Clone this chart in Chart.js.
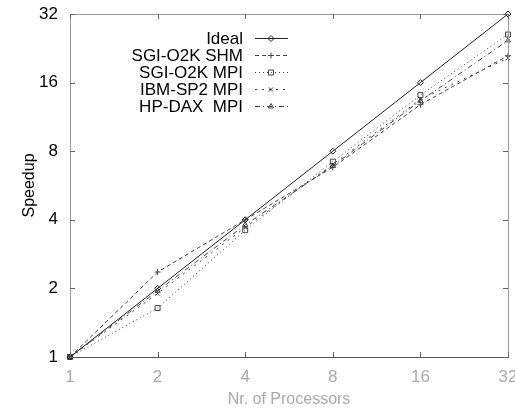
<!DOCTYPE html>
<html>
<head>
<meta charset="utf-8">
<script src="https://cdn.jsdelivr.net/npm/chart.js@4/dist/chart.umd.min.js"></script>
<style>
  html, body { margin: 0; padding: 0; background: #fff; }
  #wrap { width: 515px; height: 409px; }
</style>
</head>
<body>
<div id="wrap"><canvas id="chartCanvas" width="515" height="409"></canvas></div>
<script>
const processors = [1, 2, 4, 8, 16, 32];
const ideal = [1, 2, 4, 8, 16, 32];
const sgiShm = [1, 2.36, 4.0, 6.8, 12.8, 21];
const sgiMpi = [1, 1.64, 3.6, 7.2, 14.1, 26];
const ibmMpi = [1, 1.9, 3.7, 7.0, 13.5, 20.5];
const hpMpi = [1, 1.95, 3.8, 6.9, 13.3, 24.5];
const speedTicks = [1, 2, 4, 8, 16, 32];

const FONT = "'Liberation Sans', Arial, sans-serif";

function pts(values) {
    return processors.map((p, i) => ({ x: p, y: values[i] }));
}

function series(label, values, dash, style, radius, color) {
    return {
        label: label,
        data: pts(values),
        borderColor: color,
        backgroundColor: 'rgba(0,0,0,0)',
        borderWidth: 1,
        borderDash: dash,
        pointStyle: style,
        pointRadius: radius,
        pointBorderColor: color,
        pointBackgroundColor: 'rgba(0,0,0,0)',
        pointBorderWidth: 1,
        tension: 0,
        clip: false
    };
}

// legend drawn like gnuplot: right aligned text, sample on the right
const gnuLegend = {
    id: 'gnuLegend',
    afterDraw(chart) {
        const ctx = chart.ctx;
        ctx.save();
        ctx.font = '17px ' + FONT;
        ctx.textAlign = 'right';
        ctx.textBaseline = 'middle';
        chart.data.datasets.forEach((ds, i) => {
            const y = 38 + i * 17;
            ctx.fillStyle = '#000';
            ctx.fillText(ds.label, 243, y + 1);
            ctx.strokeStyle = ds.borderColor;
            ctx.lineWidth = 1;
            ctx.setLineDash(ds.borderDash);
            ctx.beginPath();
            ctx.moveTo(255, y + 0.5);
            ctx.lineTo(288, y + 0.5);
            ctx.stroke();
            ctx.setLineDash([]);
            ctx.fillStyle = 'rgba(0,0,0,0)';
            Chart.helpers.drawPoint(ctx, {
                pointStyle: ds.pointStyle,
                radius: ds.pointRadius,
                rotation: 0,
                borderWidth: 1
            }, 271, y + 0.5);
        });
        ctx.restore();
    }
};

// frame and inward ticks on all four sides
const gnuFrame = {
    id: 'gnuFrame',
    afterDraw(chart) {
        const ctx = chart.ctx;
        const a = chart.chartArea;
        const xs = chart.scales.x, ys = chart.scales.y;
        ctx.save();
        ctx.lineWidth = 1;
        ctx.strokeStyle = '#999';
        ctx.beginPath();
        ctx.moveTo(a.left + 0.5, a.bottom);
        ctx.lineTo(a.left + 0.5, a.top + 0.5);
        ctx.lineTo(a.right + 0.5, a.top + 0.5);
        ctx.lineTo(a.right + 0.5, a.bottom);
        ctx.stroke();
        ctx.strokeStyle = '#555';
        ctx.beginPath();
        ctx.moveTo(a.left, a.bottom + 0.5);
        ctx.lineTo(a.right + 1, a.bottom + 0.5);
        ctx.stroke();
        ctx.strokeStyle = '#666';
        ctx.beginPath();
        processors.forEach(p => {
            const px = Math.round(xs.getPixelForValue(p)) + 0.5;
            ctx.moveTo(px, a.bottom);
            ctx.lineTo(px, a.bottom - 5);
            ctx.moveTo(px, a.top);
            ctx.lineTo(px, a.top + 5);
        });
        speedTicks.forEach(v => {
            const py = Math.round(ys.getPixelForValue(v)) + 0.5;
            ctx.moveTo(a.left, py);
            ctx.lineTo(a.left + 5, py);
            ctx.moveTo(a.right, py);
            ctx.lineTo(a.right - 5, py);
        });
        ctx.stroke();
        ctx.restore();
    }
};

const ctx = document.getElementById('chartCanvas').getContext('2d');
new Chart(ctx, {
    type: 'line',
    data: {
        datasets: [
            series('Ideal', ideal, [], 'rectRot', 3, '#222'),
            series('SGI-O2K SHM', sgiShm, [4, 3], 'cross', 3, '#444'),
            series('SGI-O2K MPI', sgiMpi, [1, 3], 'rect', 3.5, '#444'),
            series('IBM-SP2 MPI', ibmMpi, [2, 5], 'crossRot', 3, '#444'),
            series('HP-DAX  MPI', hpMpi, [5, 3, 1, 3], 'triangle', 3, '#444')
        ]
    },
    options: {
        responsive: false,
        animation: false,
        layout: { padding: { left: 0, right: 7, top: 14, bottom: 0 } },
        plugins: {
            legend: { display: false },
            tooltip: { enabled: false }
        },
        scales: {
            x: {
                type: 'logarithmic',
                min: 1,
                max: 32,
                afterBuildTicks: s => { s.ticks = processors.map(v => ({ value: v })); },
                afterFit: s => { s.height = 52; s.paddingLeft = 0; s.paddingRight = 0; },
                grid: { display: false, drawTicks: false },
                border: { display: false },
                ticks: {
                    autoSkip: false,
                    maxRotation: 0,
                    padding: 10,
                    color: '#aaa',
                    font: { family: FONT, size: 17 },
                    callback: v => String(v)
                },
                title: {
                    display: true,
                    text: 'Nr. of Processors',
                    color: '#aaa',
                    font: { family: FONT, size: 16 },
                    padding: { top: 0, bottom: 0 }
                }
            },
            y: {
                type: 'logarithmic',
                min: 1,
                max: 32,
                afterBuildTicks: s => { s.ticks = speedTicks.map(v => ({ value: v })); },
                afterFit: s => { s.width = 70; s.paddingTop = 0; s.paddingBottom = 0; },
                grid: { display: false, drawTicks: false },
                border: { display: false },
                ticks: {
                    autoSkip: false,
                    padding: 12,
                    color: '#000',
                    font: { family: FONT, size: 17 },
                    callback: v => String(v)
                },
                title: {
                    display: true,
                    text: 'Speedup',
                    color: '#000',
                    font: { family: FONT, size: 16 },
                    padding: { top: 20, bottom: 0 }
                }
            }
        }
    },
    plugins: [gnuFrame, gnuLegend]
});
</script>
</body>
</html>
